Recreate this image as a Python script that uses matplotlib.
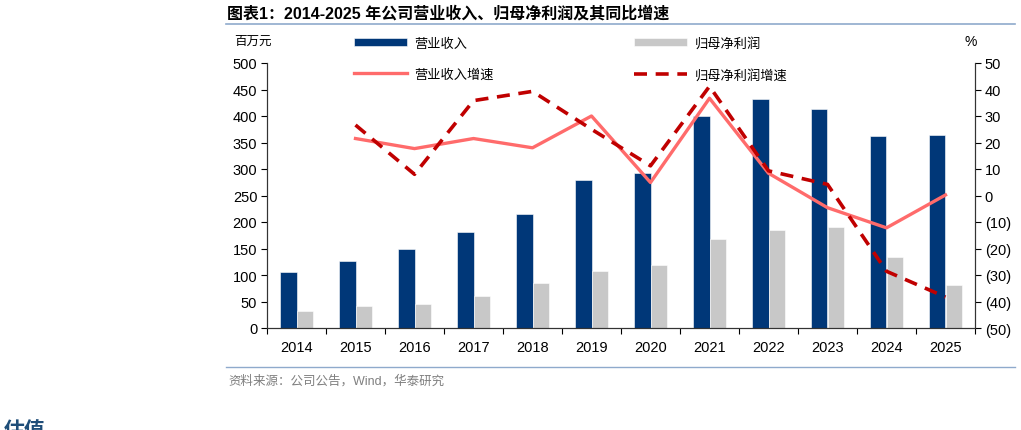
import matplotlib
matplotlib.use('Agg')
import matplotlib.pyplot as plt
from matplotlib.ticker import FuncFormatter, FixedLocator
from matplotlib.lines import Line2D
import numpy as np

plt.rcParams['font.family'] = ['Liberation Sans', 'Noto Sans CJK SC', 'DejaVu Sans']

years = ['2014', '2015', '2016', '2017', '2018', '2019', '2020', '2021', '2022', '2023', '2024', '2025']
revenue = [105, 127, 150, 182, 215, 279, 293, 400, 433, 413, 363, 363.5]
net_profit = [33, 41.5, 44.6, 61, 85.5, 107, 118, 168, 185, 190, 134, 82]
revenue_growth = [None, 21.5, 17.7, 21.5, 18.0, 30.0, 4.9, 36.7, 8.4, -4.6, -12.2, 0.2]
profit_growth = [None, 26.6, 8.0, 35.8, 39.3, 25.0, 11.2, 41.2, 9.3, 4.2, -28.6, -38.3]

BLUE = '#003778'
GRAY = '#C8C8C8'
SALMON = '#FF6B6B'
DARKRED = '#C00000'

fig = plt.figure(figsize=(10.21, 4.31), dpi=100)
ax = fig.add_axes([267 / 1021, 1 - 329 / 431, 708 / 1021, 265 / 431])
ax2 = ax.twinx()

x = np.arange(len(years))
w = 0.283
bars1 = ax.bar(x - w / 2, revenue, w, color=BLUE, edgecolor='white', linewidth=0.4, label='营业收入')
bars2 = ax.bar(x + w / 2, net_profit, w, color=GRAY, edgecolor='white', linewidth=0.4, label='归母净利润')

rg = np.array([np.nan if v is None else v for v in revenue_growth])
pg = np.array([np.nan if v is None else v for v in profit_growth])
l1, = ax2.plot(x, rg, color=SALMON, lw=2.4, label='营业收入增速')
l2, = ax2.plot(x, pg, color=DARKRED, lw=2.6, dashes=(3.6, 2.4), label='归母净利润增速')

ax.set_xlim(-0.5, len(years) - 0.5)
ax.set_ylim(0, 500)
ax.set_yticks(np.arange(0, 501, 50))
ax2.set_ylim(-50, 50)
ax2.set_yticks(np.arange(-50, 51, 10))
ax2.yaxis.set_major_formatter(FuncFormatter(lambda v, p: f'({abs(int(v))})' if v < 0 else f'{int(v)}'))

ax.set_xticks(x)
ax.set_xticklabels(years)
ax.tick_params(axis='x', which='major', length=0, pad=9, labelsize=10.5, colors='black')
ax.xaxis.set_minor_locator(FixedLocator(np.arange(-0.5, len(years), 1.0)))
ax.tick_params(axis='x', which='minor', length=4, direction='out', width=0.8)
ax.tick_params(axis='y', length=4, direction='out', width=0.8, labelsize=10.5, pad=3)
ax2.tick_params(axis='y', length=4, direction='out', width=0.8, labelsize=10.5, pad=3)

for a in (ax, ax2):
    a.spines['top'].set_visible(False)
    for s in ('left', 'right', 'bottom'):
        a.spines[s].set_linewidth(0.8)
        a.spines[s].set_color('#333333')

handles = [bars1, l1, bars2, l2]
leg = fig.legend(handles, [h.get_label() for h in handles], ncol=2,
                 loc='upper left', bbox_to_anchor=(354 / 1021, 1 - 38 / 431),
                 frameon=False, fontsize=9.5, handlelength=4.0, handleheight=0.55,
                 handletextpad=0.6, columnspacing=10.6, labelspacing=1.4,
                 borderaxespad=0, borderpad=0)

fig.text(253 / 1021, 1 - 42 / 431, '百万元', ha='center', va='center', fontsize=9)
fig.text(971 / 1021, 1 - 42 / 431, '%', ha='center', va='center', fontsize=10)

fig.text(227 / 1021, 1 - 14 / 431, '图表1：2014-2025 年公司营业收入、归母净利润及其同比增速',
         ha='left', va='center', fontsize=11.5, fontweight='bold')
fig.add_artist(Line2D([226 / 1021, 1015 / 1021], [1 - 24.5 / 431] * 2, color='#8FAACC', lw=1.2))
fig.add_artist(Line2D([226 / 1021, 1015 / 1021], [1 - 368 / 431] * 2, color='#8FAACC', lw=1.0))
fig.text(228 / 1021, 1 - 381 / 431, '资料来源：公司公告，Wind，华泰研究',
         ha='left', va='center', fontsize=9, color='#7F7F7F')
fig.text(4 / 1021, 1 - 421 / 431, '估值', ha='left', va='top', fontsize=15,
         fontweight='bold', color='#1F4E79')

fig.savefig('out.png', dpi=100)
